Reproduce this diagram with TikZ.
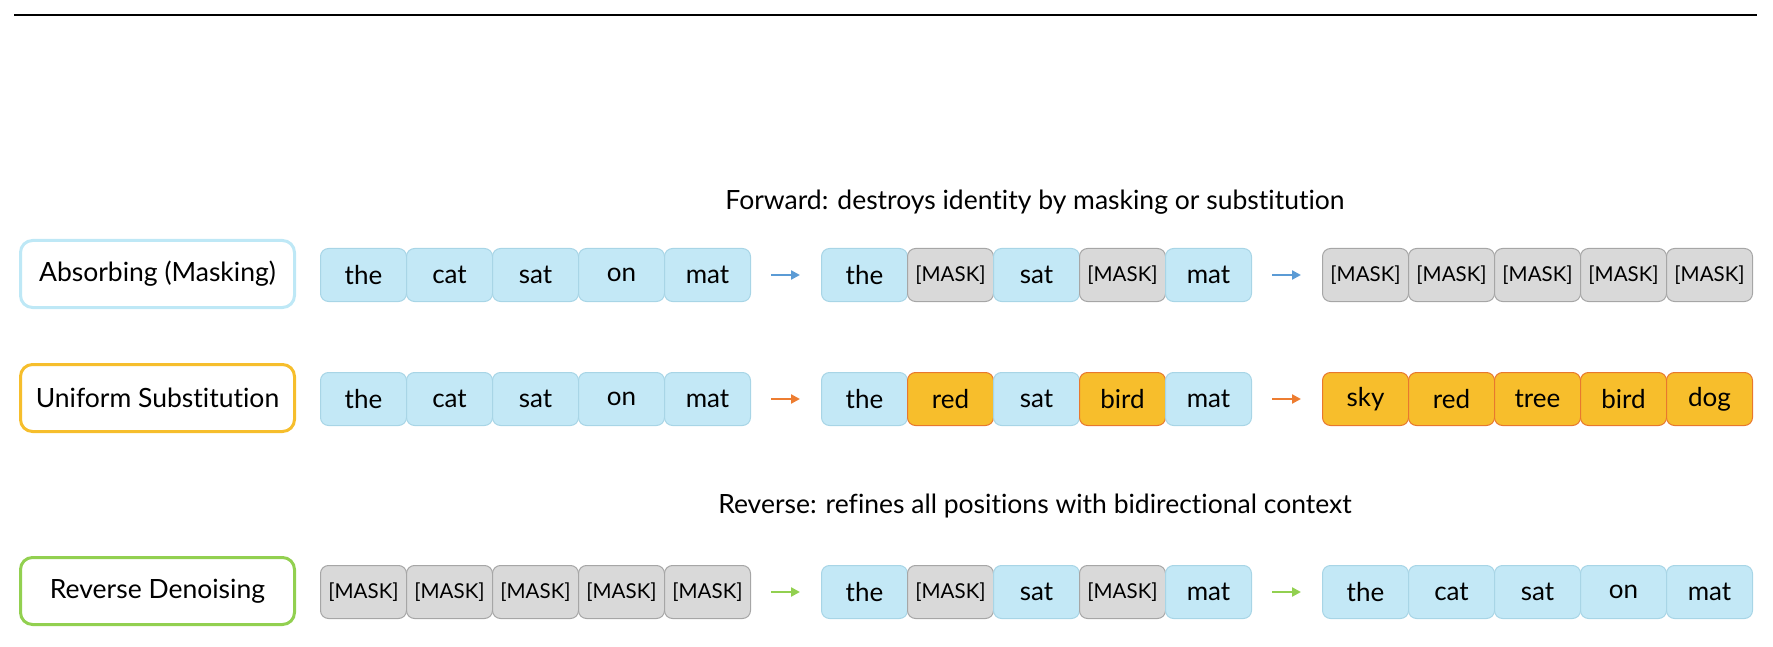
\documentclass[tikz,border=0pt]{standalone}
\usepackage{fontspec}
\setmainfont{Lato}[Ligatures=NoCommon]
\usetikzlibrary{arrows.meta}
\definecolor{tokf}{RGB}{195,232,246}
\definecolor{tokd}{RGB}{168,213,230}
\definecolor{mskf}{RGB}{217,217,217}
\definecolor{mskd}{RGB}{166,166,166}
\definecolor{subf}{RGB}{247,190,44}
\definecolor{subd}{RGB}{232,120,46}
\definecolor{labblue}{RGB}{190,232,246}
\definecolor{labgold}{RGB}{246,190,44}
\definecolor{labgreen}{RGB}{146,208,80}
\definecolor{arrblue}{RGB}{91,155,213}
\definecolor{arrorange}{RGB}{237,125,49}
\definecolor{arrgreen}{RGB}{146,208,80}
\newcommand{\tokfnt}{\fontsize{26}{30}\selectfont}
\newcommand{\mskfnt}{\fontsize{20.5}{24}\selectfont}
\newcommand{\labfnt}{\fontsize{26.5}{30}\selectfont}
\newcommand{\hdrfnt}{\fontsize{26.5}{30}\selectfont}
\tikzset{
  tok/.style={draw=tokd, fill=tokf, rounded corners=8pt, minimum width=86pt, minimum height=53pt, inner sep=0pt, line width=1pt, font=\tokfnt, anchor=west},
  msk/.style={tok, draw=mskd, fill=mskf, font=\mskfnt},
  sub/.style={tok, draw=subd, fill=subf},
  lab/.style={rounded corners=12pt, line width=3pt, fill=white, minimum width=274pt, minimum height=67pt, inner sep=0pt, font=\labfnt},
  arr/.style={-{Triangle[length=9pt,width=9pt]}, line width=2.5pt, shorten <=20pt, shorten >=21pt},
  hdr/.style={font=\hdrfnt, inner sep=0pt}
}
\begin{document}
\begin{tikzpicture}[x=1pt,y=-1pt]
\useasboundingbox (0,0) rectangle (1773,647);
\coordinate (tl) at (14,15);
\coordinate (tr) at (1757,15);
\draw[line width=1.5pt] (tl) -- (tr);

\node[hdr] (fwd) at (1035,202) {Forward: destroys identity by masking or substitution};
\node[hdr] (rev) at (1035,506) {Reverse: refines all positions with bidirectional context};

\node[lab, draw=labblue] (l1) at (157.5,274) {Absorbing (Masking)};
\node[lab, draw=labgold] (l2) at (157.5,398) {Uniform Substitution};
\node[lab, draw=labgreen] (l3) at (157.5,591) {Reverse Denoising};

% row 1
\foreach \s/\t [count=\i] in {tok/the,tok/cat,tok/sat,tok/on,tok/mat}
  \node[\s] (a1\i) at (320+86*\i-86,275) {\t};
\foreach \s/\t [count=\i] in {tok/the,msk/[MASK],tok/sat,msk/[MASK],tok/mat}
  \node[\s] (a2\i) at (821+86*\i-86,275) {\t};
\foreach \s/\t [count=\i] in {msk/[MASK],msk/[MASK],msk/[MASK],msk/[MASK],msk/[MASK]}
  \node[\s] (a3\i) at (1322+86*\i-86,275) {\t};
% row 2
\foreach \s/\t [count=\i] in {tok/the,tok/cat,tok/sat,tok/on,tok/mat}
  \node[\s] (b1\i) at (320+86*\i-86,399) {\t};
\foreach \s/\t [count=\i] in {tok/the,sub/red,tok/sat,sub/bird,tok/mat}
  \node[\s] (b2\i) at (821+86*\i-86,399) {\t};
\foreach \s/\t [count=\i] in {sub/sky,sub/red,sub/tree,sub/bird,sub/dog}
  \node[\s] (b3\i) at (1322+86*\i-86,399) {\t};
% row 3
\foreach \s/\t [count=\i] in {msk/[MASK],msk/[MASK],msk/[MASK],msk/[MASK],msk/[MASK]}
  \node[\s] (c1\i) at (320+86*\i-86,592) {\t};
\foreach \s/\t [count=\i] in {tok/the,msk/[MASK],tok/sat,msk/[MASK],tok/mat}
  \node[\s] (c2\i) at (821+86*\i-86,592) {\t};
\foreach \s/\t [count=\i] in {tok/the,tok/cat,tok/sat,tok/on,tok/mat}
  \node[\s] (c3\i) at (1322+86*\i-86,592) {\t};

\draw[arr, arrblue] (a15.east) -- (a21.west);
\draw[arr, arrblue] (a25.east) -- (a31.west);
\draw[arr, arrorange] (b15.east) -- (b21.west);
\draw[arr, arrorange] (b25.east) -- (b31.west);
\draw[arr, arrgreen] (c15.east) -- (c21.west);
\draw[arr, arrgreen] (c25.east) -- (c31.west);
\end{tikzpicture}
\end{document}
